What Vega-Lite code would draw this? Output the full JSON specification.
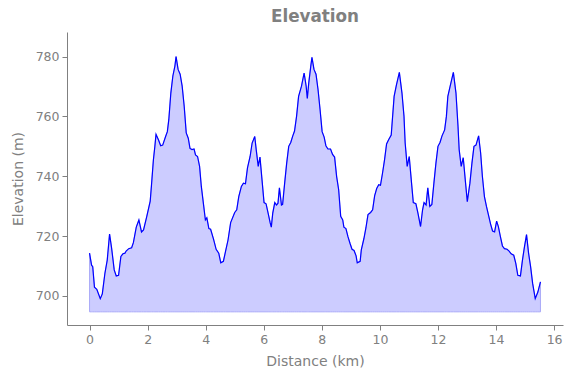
{
  "$schema": "https://vega.github.io/schema/vega-lite/v6.json",
  "width": 496,
  "height": 293,
  "autosize": {"type": "none"},
  "padding": {"left": 67, "top": 32, "right": 10, "bottom": 53},
  "background": "white",
  "title": {"text": "Elevation", "fontSize": 16.8, "fontWeight": "bold", "color": "#808080", "font": "DejaVu Sans", "anchor": "middle", "offset": 6},
  "config": {
    "view": {"stroke": null},
    "axis": {"domainColor": "#808080", "tickColor": "#808080", "labelColor": "#808080", "titleColor": "#808080", "labelFont": "DejaVu Sans", "titleFont": "DejaVu Sans", "labelFontSize": 12.5, "titleFontSize": 14, "titleFontWeight": "normal", "grid": false, "tickSize": 5, "labelPadding": 3, "domainWidth": 1}
  },
  "data": {"values": [
    {"d": 0.0, "e": 714.3}, {"d": 0.07, "e": 710.3}, {"d": 0.11, "e": 709.8}, {"d": 0.17, "e": 702.9}, {"d": 0.25, "e": 702.2},
    {"d": 0.37, "e": 699.1}, {"d": 0.44, "e": 700.7}, {"d": 0.53, "e": 707.6}, {"d": 0.61, "e": 712.0}, {"d": 0.69, "e": 720.7},
    {"d": 0.76, "e": 716.0}, {"d": 0.85, "e": 708.7}, {"d": 0.92, "e": 706.7}, {"d": 1.0, "e": 706.9}, {"d": 1.08, "e": 713.2},
    {"d": 1.15, "e": 714.1}, {"d": 1.22, "e": 714.3}, {"d": 1.26, "e": 715.0}, {"d": 1.35, "e": 715.8}, {"d": 1.45, "e": 716.1},
    {"d": 1.51, "e": 717.8}, {"d": 1.61, "e": 723.0}, {"d": 1.70, "e": 725.4}, {"d": 1.79, "e": 721.4}, {"d": 1.86, "e": 722.1},
    {"d": 1.97, "e": 726.5}, {"d": 2.09, "e": 731.7}, {"d": 2.13, "e": 736.6}, {"d": 2.20, "e": 745.5}, {"d": 2.25, "e": 750.0},
    {"d": 2.29, "e": 754.0}, {"d": 2.38, "e": 752.0}, {"d": 2.45, "e": 750.2}, {"d": 2.52, "e": 750.4}, {"d": 2.62, "e": 753.3},
    {"d": 2.68, "e": 754.9}, {"d": 2.73, "e": 758.9}, {"d": 2.80, "e": 767.8}, {"d": 2.87, "e": 773.5}, {"d": 2.94, "e": 776.8},
    {"d": 2.98, "e": 780.0}, {"d": 3.05, "e": 775.7}, {"d": 3.12, "e": 774.1}, {"d": 3.19, "e": 770.1}, {"d": 3.26, "e": 763.4},
    {"d": 3.33, "e": 754.5}, {"d": 3.40, "e": 752.7}, {"d": 3.46, "e": 749.3}, {"d": 3.53, "e": 748.9}, {"d": 3.60, "e": 749.1},
    {"d": 3.65, "e": 747.1}, {"d": 3.72, "e": 746.6}, {"d": 3.79, "e": 743.3}, {"d": 3.85, "e": 736.6}, {"d": 3.92, "e": 731.0},
    {"d": 3.99, "e": 725.4}, {"d": 4.04, "e": 726.1}, {"d": 4.11, "e": 722.5}, {"d": 4.17, "e": 722.3}, {"d": 4.27, "e": 719.0},
    {"d": 4.36, "e": 715.6}, {"d": 4.45, "e": 714.3}, {"d": 4.52, "e": 711.1}, {"d": 4.61, "e": 711.6}, {"d": 4.68, "e": 714.7},
    {"d": 4.77, "e": 718.7}, {"d": 4.86, "e": 724.5}, {"d": 5.0, "e": 727.9}, {"d": 5.07, "e": 728.8}, {"d": 5.14, "e": 733.2},
    {"d": 5.23, "e": 736.6}, {"d": 5.30, "e": 737.7}, {"d": 5.37, "e": 737.5}, {"d": 5.44, "e": 742.8}, {"d": 5.53, "e": 746.6},
    {"d": 5.60, "e": 751.1}, {"d": 5.69, "e": 753.3}, {"d": 5.74, "e": 748.9}, {"d": 5.81, "e": 743.3}, {"d": 5.87, "e": 746.4},
    {"d": 5.94, "e": 738.8}, {"d": 6.01, "e": 731.2}, {"d": 6.08, "e": 730.8}, {"d": 6.15, "e": 727.7}, {"d": 6.22, "e": 724.5},
    {"d": 6.26, "e": 723.0}, {"d": 6.31, "e": 727.7}, {"d": 6.38, "e": 731.2}, {"d": 6.44, "e": 730.4}, {"d": 6.49, "e": 731.0},
    {"d": 6.54, "e": 736.1}, {"d": 6.61, "e": 730.4}, {"d": 6.65, "e": 730.6}, {"d": 6.72, "e": 737.7}, {"d": 6.79, "e": 744.4},
    {"d": 6.86, "e": 750.0}, {"d": 6.93, "e": 751.3}, {"d": 7.0, "e": 753.5}, {"d": 7.06, "e": 755.1}, {"d": 7.13, "e": 760.0},
    {"d": 7.20, "e": 766.7}, {"d": 7.30, "e": 770.1}, {"d": 7.39, "e": 774.5}, {"d": 7.46, "e": 770.1}, {"d": 7.50, "e": 766.0},
    {"d": 7.55, "e": 771.2}, {"d": 7.62, "e": 776.8}, {"d": 7.66, "e": 779.7}, {"d": 7.73, "e": 775.7}, {"d": 7.80, "e": 774.1},
    {"d": 7.87, "e": 768.9}, {"d": 7.94, "e": 762.2}, {"d": 8.01, "e": 754.9}, {"d": 8.08, "e": 753.1}, {"d": 8.14, "e": 750.2},
    {"d": 8.21, "e": 749.1}, {"d": 8.30, "e": 749.1}, {"d": 8.37, "e": 747.3}, {"d": 8.44, "e": 746.4}, {"d": 8.51, "e": 739.9},
    {"d": 8.58, "e": 735.5}, {"d": 8.65, "e": 726.6}, {"d": 8.72, "e": 725.4}, {"d": 8.76, "e": 723.0}, {"d": 8.83, "e": 722.5},
    {"d": 8.90, "e": 719.8}, {"d": 8.97, "e": 717.6}, {"d": 9.04, "e": 715.6}, {"d": 9.11, "e": 715.2}, {"d": 9.18, "e": 713.4},
    {"d": 9.22, "e": 711.1}, {"d": 9.32, "e": 711.6}, {"d": 9.36, "e": 715.4}, {"d": 9.45, "e": 719.2}, {"d": 9.52, "e": 722.8},
    {"d": 9.59, "e": 727.2}, {"d": 9.68, "e": 727.9}, {"d": 9.75, "e": 728.8}, {"d": 9.82, "e": 733.5}, {"d": 9.89, "e": 735.9},
    {"d": 9.96, "e": 737.2}, {"d": 10.02, "e": 737.0}, {"d": 10.09, "e": 741.0}, {"d": 10.16, "e": 745.5}, {"d": 10.23, "e": 750.8},
    {"d": 10.30, "e": 752.2}, {"d": 10.39, "e": 753.8}, {"d": 10.49, "e": 766.7}, {"d": 10.57, "e": 770.5}, {"d": 10.67, "e": 774.7},
    {"d": 10.76, "e": 767.8}, {"d": 10.83, "e": 760.0}, {"d": 10.87, "e": 751.1}, {"d": 10.94, "e": 743.3}, {"d": 11.01, "e": 746.6},
    {"d": 11.08, "e": 738.8}, {"d": 11.15, "e": 731.2}, {"d": 11.24, "e": 730.8}, {"d": 11.31, "e": 727.7}, {"d": 11.40, "e": 723.2},
    {"d": 11.47, "e": 728.8}, {"d": 11.52, "e": 731.2}, {"d": 11.59, "e": 730.4}, {"d": 11.65, "e": 736.1}, {"d": 11.72, "e": 729.9},
    {"d": 11.79, "e": 730.6}, {"d": 11.86, "e": 737.7}, {"d": 11.93, "e": 744.4}, {"d": 12.0, "e": 750.0}, {"d": 12.07, "e": 751.3},
    {"d": 12.14, "e": 753.5}, {"d": 12.23, "e": 755.5}, {"d": 12.29, "e": 760.0}, {"d": 12.34, "e": 766.7}, {"d": 12.43, "e": 770.5},
    {"d": 12.53, "e": 774.7}, {"d": 12.62, "e": 767.8}, {"d": 12.69, "e": 756.7}, {"d": 12.73, "e": 748.9}, {"d": 12.80, "e": 743.3},
    {"d": 12.87, "e": 746.2}, {"d": 12.94, "e": 738.8}, {"d": 13.01, "e": 731.5}, {"d": 13.10, "e": 737.7}, {"d": 13.17, "e": 744.4},
    {"d": 13.24, "e": 750.0}, {"d": 13.31, "e": 750.4}, {"d": 13.40, "e": 753.5}, {"d": 13.47, "e": 747.7}, {"d": 13.53, "e": 739.9},
    {"d": 13.60, "e": 733.2}, {"d": 13.67, "e": 729.9}, {"d": 13.74, "e": 727.0}, {"d": 13.81, "e": 724.1}, {"d": 13.88, "e": 721.7},
    {"d": 13.95, "e": 721.4}, {"d": 14.02, "e": 725.0}, {"d": 14.08, "e": 723.2}, {"d": 14.15, "e": 719.8}, {"d": 14.22, "e": 716.7},
    {"d": 14.29, "e": 715.8}, {"d": 14.38, "e": 715.6}, {"d": 14.45, "e": 715.0}, {"d": 14.52, "e": 714.1}, {"d": 14.61, "e": 713.6},
    {"d": 14.68, "e": 710.9}, {"d": 14.75, "e": 706.9}, {"d": 14.84, "e": 706.7}, {"d": 14.91, "e": 712.0}, {"d": 14.98, "e": 716.5},
    {"d": 15.05, "e": 720.5}, {"d": 15.12, "e": 714.3}, {"d": 15.19, "e": 709.8}, {"d": 15.26, "e": 704.2}, {"d": 15.35, "e": 699.1},
    {"d": 15.44, "e": 701.3}, {"d": 15.53, "e": 704.7}
  ]},
  "encoding": {
    "x": {"field": "d", "type": "quantitative", "title": "Distance (km)",
      "scale": {"domain": [-0.776, 16.306], "nice": false, "zero": false},
      "axis": {"values": [0, 2, 4, 6, 8, 10, 12, 14, 16], "titlePadding": 9}},
    "y": {"field": "e", "type": "quantitative", "title": "Elevation (m)",
      "scale": {"domain": [690.3, 788.2], "nice": false, "zero": false},
      "axis": {"values": [700, 720, 740, 760, 780], "titlePadding": 10}}
  },
  "layer": [
    {"mark": {"type": "area", "color": "#ccccff", "opacity": 1, "stroke": "#aaaaf8", "strokeWidth": 1},
     "encoding": {"y2": {"datum": 694.7}}},
    {"mark": {"type": "line", "color": "#0000ff", "strokeWidth": 1.2}}
  ]
}
